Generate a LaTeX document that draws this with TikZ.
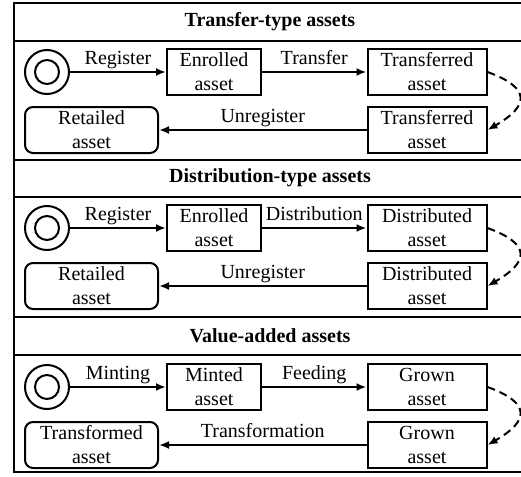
\documentclass[tikz,border=0pt]{standalone}
\usepackage{fontspec}
\setmainfont{Liberation Serif}
\usetikzlibrary{positioning,arrows.meta}

\tikzset{
    asset/.style={draw, line width=1pt, align=center, inner sep=1pt, minimum height=23pt},
    smallasset/.style={asset, minimum width=47pt},
    wideasset/.style={asset, minimum width=59.5pt},
    retail/.style={asset, rounded corners=4pt, minimum width=66.5pt},
    startnode/.style={draw, circle, line width=1pt, minimum size=22pt, inner sep=0pt},
    innernode/.style={draw, circle, line width=1pt, minimum size=12pt, inner sep=0pt},
    flow/.style={-{Latex[length=5pt,width=4pt]}, line width=1pt},
    recycle/.style={flow, dash pattern=on 4pt off 2.5pt},
    lbl/.style={above, inner sep=1pt, midway, text height=0.7em, text depth=0.22em},
    frameline/.style={line width=1.4pt},
    titleline/.style={line width=1pt}
}

\begin{document}
\begin{tikzpicture}[node distance=5pt]
    \useasboundingbox (0,0) rectangle (260.5pt,-238.5pt);

    % Frame and separators
    \draw[frameline] (7pt,-1.5pt) rectangle (263pt,-236pt);
    \draw[frameline] (7pt,-80pt) -- (263pt,-80pt);
    \draw[frameline] (7pt,-158.5pt) -- (263pt,-158.5pt);
    \draw[titleline] (7pt,-20.5pt) -- (263pt,-20.5pt);
    \draw[titleline] (7pt,-98.5pt) -- (263pt,-98.5pt);
    \draw[titleline] (7pt,-177.5pt) -- (263pt,-177.5pt);

    % Transfer-type assets
    \begin{scope}[yshift=-1.5pt]
        \node (title1) at (135pt,-9.5pt) {\textbf{Transfer-type assets}};
        \node[startnode] (start1) at (23.5pt,-34.5pt) {};
        \node[innernode] at (start1) {};
        \node[smallasset] (enrol1) at (107pt,-34.5pt) {Enrolled\\asset};
        \node[wideasset] (moved1) at (213.5pt,-34.5pt) {Transferred\\asset};
        \node[wideasset, below=of moved1] (moved1b) {Transferred\\asset};
        \node[retail, anchor=west] (retail1) at (start1.west |- moved1b) {Retailed\\asset};

        \draw[flow] (start1) -- node[lbl] {Register} (enrol1);
        \draw[flow] (enrol1) -- node[lbl] {Transfer} (moved1);
        \draw[recycle] (moved1.east) to[out=-20, in=30, looseness=2.1] (moved1b.east);
        \draw[flow] (moved1b) -- node[lbl] {Unregister} (retail1);
    \end{scope}

    % Distribution-type assets
    \begin{scope}[yshift=-80pt]
        \node (title2) at (135pt,-9pt) {\textbf{Distribution-type assets}};
        \node[startnode] (start2) at (23.5pt,-34pt) {};
        \node[innernode] at (start2) {};
        \node[smallasset] (enrol2) at (107pt,-34pt) {Enrolled\\asset};
        \node[wideasset] (moved2) at (213.5pt,-34pt) {Distributed\\asset};
        \node[wideasset, below=of moved2] (moved2b) {Distributed\\asset};
        \node[retail, anchor=west] (retail2) at (start2.west |- moved2b) {Retailed\\asset};

        \draw[flow] (start2) -- node[lbl] {Register} (enrol2);
        \draw[flow] (enrol2) -- node[lbl] {Distribution} (moved2);
        \draw[recycle] (moved2.east) to[out=-20, in=30, looseness=2.1] (moved2b.east);
        \draw[flow] (moved2b) -- node[lbl] {Unregister} (retail2);
    \end{scope}

    % Value-added assets
    \begin{scope}[yshift=-158.5pt]
        \node (title3) at (135pt,-9.5pt) {\textbf{Value-added assets}};
        \node[startnode] (start3) at (23.5pt,-35pt) {};
        \node[innernode] at (start3) {};
        \node[smallasset] (mint3) at (107pt,-35pt) {Minted\\asset};
        \node[wideasset] (grown3) at (213.5pt,-35pt) {Grown\\asset};
        \node[wideasset, below=of grown3] (grown3b) {Grown\\asset};
        \node[retail, anchor=west] (retail3) at (start3.west |- grown3b) {Transformed\\asset};

        \draw[flow] (start3) -- node[lbl] {Minting} (mint3);
        \draw[flow] (mint3) -- node[lbl] {Feeding} (grown3);
        \draw[recycle] (grown3.east) to[out=-20, in=30, looseness=2.1] (grown3b.east);
        \draw[flow] (grown3b) -- node[lbl] {Transformation} (retail3);
    \end{scope}
\end{tikzpicture}
\end{document}
